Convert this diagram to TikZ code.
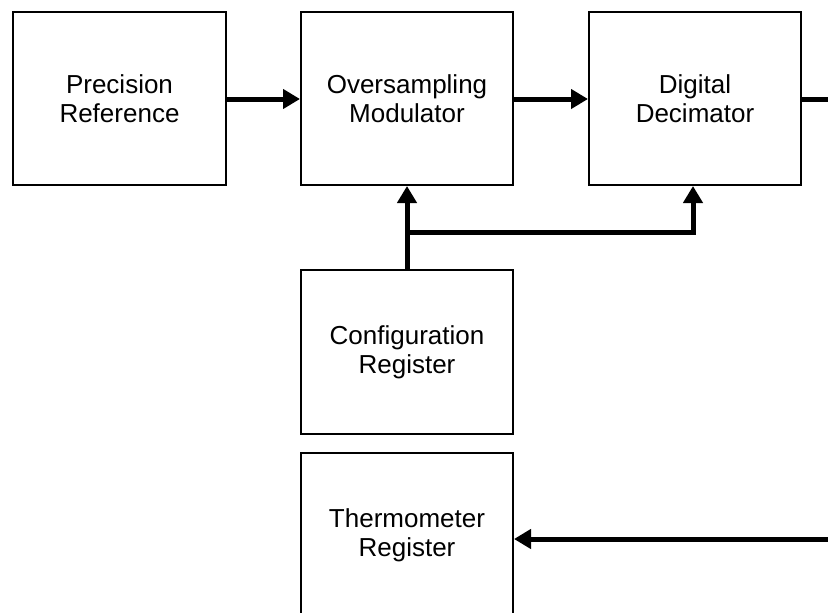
\documentclass[tikz,border=0pt]{standalone}
\usepackage{fontspec}
\setmainfont{Liberation Sans}
\usetikzlibrary{arrows.meta}
\begin{document}
\begin{tikzpicture}[x=1pt,y=1pt,
  blk/.style={draw, line width=2pt, inner sep=0pt, align=center,
    font=\fontsize{26}{29}\selectfont},
  conn/.style={line width=5pt},
  arr/.style={conn, -{Triangle[length=17pt,width=19pt]}}]
\useasboundingbox (0,0) rectangle (828,-613);
\begin{scope}
\clip (0,0) rectangle (828,-613);
\node[blk, minimum width=213pt, minimum height=173pt] (prec) at (119.5,-98.5) {Precision\\Reference};
\node[blk, minimum width=212pt, minimum height=173pt] (osm) at (407,-98.5) {Oversampling\\Modulator};
\node[blk, minimum width=212pt, minimum height=173pt] (dec) at (695,-98.5) {Digital\\Decimator};
\node[blk, minimum width=212pt, minimum height=164pt] (cfg) at (407,-352) {Configuration\\Register};
\node[blk, minimum width=212pt, minimum height=164pt] (thm) at (407,-535) {Thermometer\\Register};
\coordinate (outR) at (828,-99);
\coordinate (inR) at (828,-539);
\coordinate (br) at (407,-232);
\coordinate (brR) at (693,-232);
\draw[arr] (prec.east |- 0,-99) -- (osm.west |- 0,-99);
\draw[arr] (osm.east |- 0,-99) -- (dec.west |- 0,-99);
\draw[conn] (dec.east |- outR) -- (outR);
\draw[arr] (cfg.north) -- (osm.south);
\draw[arr] (br) -- (brR) -- (brR |- dec.south);
\draw[arr] (inR) -- (thm.east |- inR);
\end{scope}
\end{tikzpicture}
\end{document}
